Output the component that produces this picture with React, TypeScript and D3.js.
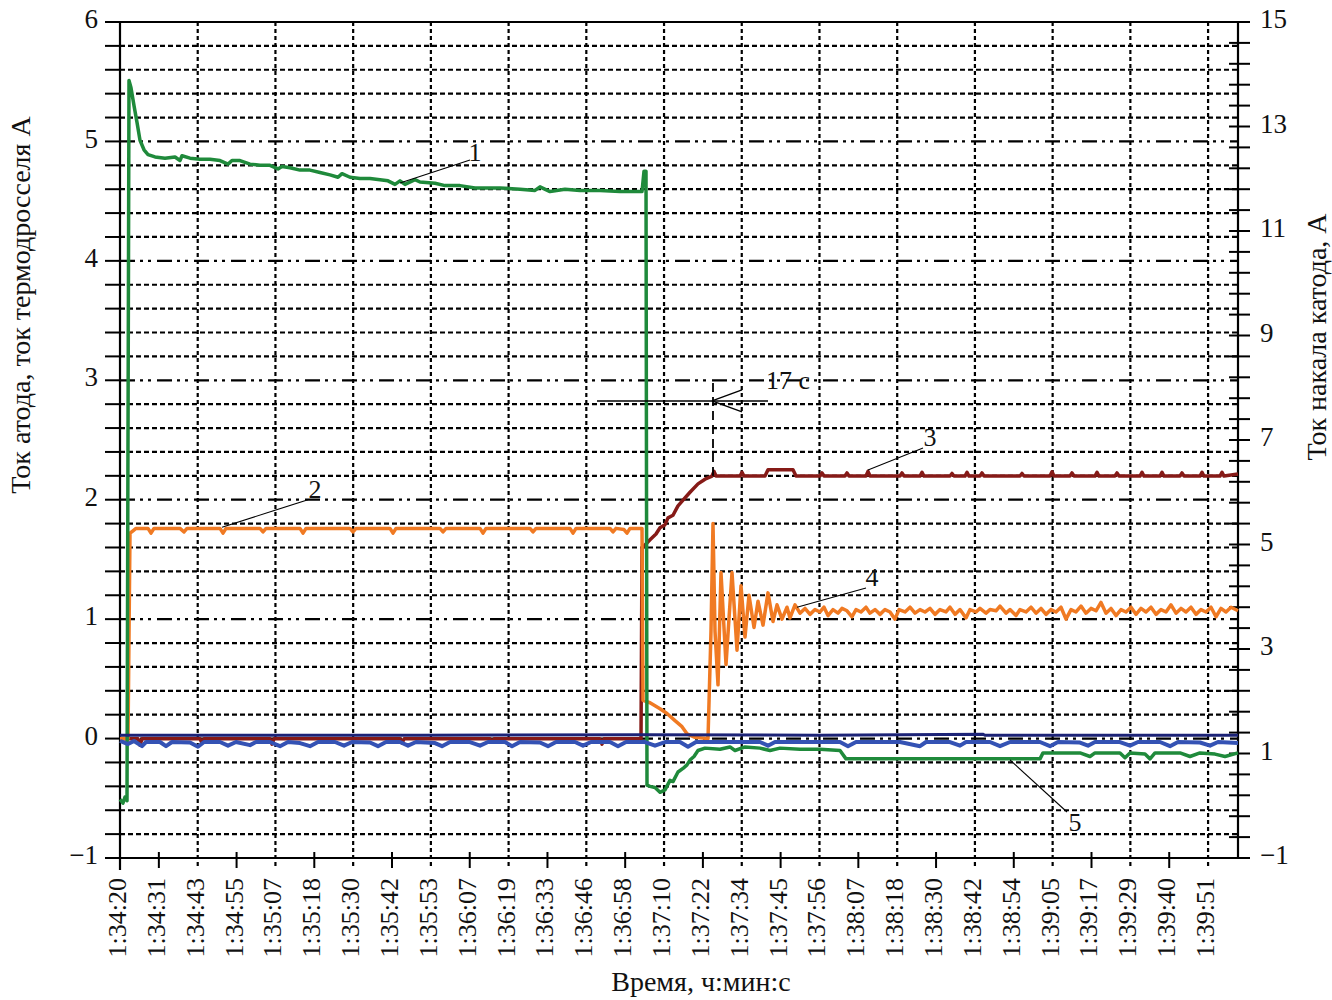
import React from "react";
import * as d3 from "d3";

// x: sample number since 1:34:20; one tick label every SAMPLES_PER_TICK samples
const SAMPLES_PER_TICK = 38.86;
const X_MAX = 1118;

const timeLabels = [
  "1:34:20", "1:34:31", "1:34:43", "1:34:55", "1:35:07", "1:35:18", "1:35:30",
  "1:35:42", "1:35:53", "1:36:07", "1:36:19", "1:36:33", "1:36:46", "1:36:58",
  "1:37:10", "1:37:22", "1:37:34", "1:37:45", "1:37:56", "1:38:07", "1:38:18",
  "1:38:30", "1:38:42", "1:38:54", "1:39:05", "1:39:17", "1:39:29", "1:39:40", "1:39:51",
];

const leftTicks = [-1, 0, 1, 2, 3, 4, 5, 6];
const rightTickLabels = [15, 13, 11, 9, 7, 5, 3, 1, -1];

// Series 1 (green) – anode current, left axis
const series1: [number, number][] = [
  [0, -0.51], [3, -0.54], [5, -0.49], [7, -0.52], [9, 5.51], [11, 5.45], [14, 5.3], [17, 5.16],
  [20, 5.01], [24, 4.93], [28, 4.89], [35, 4.87], [45, 4.86], [55, 4.87], [60, 4.84], [62, 4.88],
  [70, 4.86], [80, 4.85], [90, 4.85], [100, 4.84], [108, 4.81], [112, 4.84], [120, 4.84],
  [130, 4.81], [140, 4.8], [150, 4.8], [158, 4.77], [162, 4.79], [170, 4.78], [180, 4.76],
  [190, 4.76], [200, 4.74], [210, 4.72], [218, 4.7], [222, 4.73], [230, 4.7], [240, 4.69],
  [250, 4.69], [260, 4.68], [268, 4.67], [275, 4.64], [280, 4.67], [285, 4.64], [295, 4.68],
  [300, 4.66], [315, 4.65], [325, 4.63], [340, 4.63], [355, 4.61], [365, 4.61], [380, 4.61],
  [400, 4.6], [415, 4.59], [420, 4.62], [430, 4.58], [445, 4.6], [460, 4.59], [480, 4.59],
  [500, 4.58], [522, 4.58], [524, 4.75], [526, 4.75], [527, -0.39], [530, -0.4], [535, -0.41],
  [540, -0.45], [545, -0.43], [550, -0.35], [553, -0.36], [558, -0.28], [563, -0.25],
  [567, -0.22], [570, -0.18], [574, -0.15], [578, -0.1], [585, -0.08], [600, -0.09],
  [610, -0.07], [615, -0.1], [625, -0.07], [640, -0.08], [650, -0.1], [660, -0.08],
  [680, -0.09], [700, -0.09], [720, -0.1], [726, -0.17], [780, -0.17], [850, -0.17],
  [920, -0.17], [923, -0.12], [960, -0.12], [970, -0.15], [975, -0.12], [1000, -0.12],
  [1005, -0.16], [1010, -0.12], [1025, -0.13], [1030, -0.17], [1035, -0.12], [1060, -0.12],
  [1070, -0.15], [1080, -0.12], [1095, -0.13], [1105, -0.15], [1118, -0.12],
];

// Series 2 / 4 (orange) – thermothrottle current, left axis
const series24: [number, number][] = [
  [0, 0], [8, 0], [10, 1.72], [13, 1.74], [16, 1.76], [28, 1.76], [31, 1.72], [34, 1.76],
  [60, 1.76], [64, 1.73], [67, 1.76], [100, 1.76], [103, 1.72], [106, 1.76], [140, 1.76],
  [143, 1.73], [146, 1.76], [180, 1.76], [183, 1.72], [186, 1.76], [230, 1.76], [233, 1.73],
  [236, 1.76], [270, 1.76], [273, 1.72], [276, 1.76], [320, 1.76], [323, 1.73], [326, 1.76],
  [360, 1.76], [363, 1.72], [366, 1.76], [410, 1.76], [413, 1.73], [416, 1.76], [450, 1.76],
  [453, 1.72], [456, 1.76], [490, 1.76], [493, 1.73], [496, 1.76], [504, 1.75], [507, 1.72],
  [510, 1.76], [522, 1.76], [523, 0.32], [530, 0.3], [540, 0.25], [547, 0.21], [555, 0.15],
  [562, 0.1], [567, 0.04], [575, 0.01], [588, 0.0], [591, 0.9], [593, 1.8], [595, 0.9],
  [598, 0.45], [601, 1.39], [606, 0.62], [612, 1.39], [617, 0.74], [621, 1.28], [625, 0.85],
  [629, 1.2], [634, 0.93], [638, 1.15], [643, 0.95], [648, 1.22], [653, 0.98], [657, 1.12],
  [662, 1.0], [667, 1.1], [670, 1.01], [675, 1.12], [680, 1.05], [685, 1.09], [690, 1.04],
  [695, 1.08], [700, 1.06], [704, 1.1], [708, 1.03], [713, 1.08], [718, 1.05], [722, 1.09],
  [727, 1.07], [732, 1.02], [736, 1.08], [741, 1.06], [746, 1.1], [750, 1.05], [755, 1.08],
  [760, 1.04], [765, 1.08], [770, 1.06], [775, 1.0], [779, 1.08], [785, 1.06], [790, 1.1],
  [795, 1.05], [800, 1.08], [805, 1.06], [810, 1.09], [815, 1.04], [820, 1.08], [826, 1.06],
  [830, 1.1], [835, 1.04], [840, 1.08], [846, 1.01], [850, 1.08], [856, 1.06], [860, 1.09],
  [866, 1.05], [870, 1.08], [876, 1.07], [880, 1.11], [886, 1.05], [890, 1.08], [896, 1.03],
  [900, 1.08], [906, 1.06], [911, 1.1], [916, 1.05], [921, 1.09], [926, 1.04], [931, 1.08],
  [936, 1.06], [941, 1.1], [946, 1.0], [951, 1.08], [956, 1.06], [961, 1.11], [966, 1.05],
  [971, 1.09], [976, 1.07], [981, 1.14], [986, 1.05], [991, 1.09], [996, 1.03], [1001, 1.08],
  [1006, 1.06], [1011, 1.1], [1016, 1.04], [1021, 1.09], [1026, 1.06], [1031, 1.1],
  [1036, 1.04], [1041, 1.08], [1046, 1.06], [1051, 1.12], [1056, 1.05], [1061, 1.09],
  [1066, 1.06], [1071, 1.1], [1076, 1.04], [1081, 1.08], [1086, 1.06], [1091, 1.1],
  [1096, 1.02], [1101, 1.09], [1106, 1.06], [1111, 1.1], [1118, 1.07],
];

// Series 3 (dark red) – cathode heating current, right axis
const series3: [number, number][] = [
  [0, 1.28], [18, 1.28], [20, 1.16], [22, 1.28], [80, 1.28], [82, 1.2], [84, 1.28], [150, 1.28],
  [152, 1.18], [154, 1.28], [280, 1.28], [282, 1.2], [284, 1.28], [370, 1.28], [372, 1.22],
  [374, 1.28], [480, 1.28], [482, 1.18], [484, 1.28], [521, 1.28], [522, 4.93], [530, 5.09],
  [536, 5.2], [540, 5.32], [545, 5.38], [548, 5.51], [553, 5.56], [558, 5.74], [563, 5.85],
  [570, 6.0], [578, 6.16], [585, 6.25], [592, 6.31], [594, 6.4], [596, 6.31], [620, 6.31],
  [622, 6.38], [624, 6.31], [645, 6.31], [648, 6.43], [673, 6.43], [676, 6.31], [700, 6.31],
  [702, 6.37], [704, 6.31], [725, 6.31], [727, 6.37], [729, 6.31], [746, 6.31], [748, 6.4],
  [750, 6.31], [780, 6.31], [782, 6.37], [784, 6.31], [800, 6.31], [802, 6.38], [804, 6.31],
  [830, 6.31], [832, 6.36], [834, 6.31], [845, 6.31], [847, 6.38], [849, 6.31], [860, 6.31],
  [862, 6.37], [864, 6.31], [900, 6.31], [902, 6.36], [904, 6.31], [930, 6.31], [932, 6.39],
  [934, 6.31], [950, 6.31], [952, 6.37], [954, 6.31], [975, 6.31], [977, 6.38], [979, 6.31],
  [995, 6.31], [997, 6.37], [999, 6.31], [1020, 6.31], [1022, 6.38], [1024, 6.31], [1040, 6.31],
  [1042, 6.38], [1044, 6.31], [1060, 6.31], [1062, 6.37], [1064, 6.31], [1080, 6.31],
  [1082, 6.38], [1084, 6.31], [1100, 6.31], [1102, 6.38], [1104, 6.31], [1118, 6.35],
];

// Series 5 (blue, noisy) – right axis
const series5: [number, number][] = [
  [0, 1.24], [8, 1.18], [14, 1.24], [22, 1.14], [26, 1.22], [40, 1.22], [46, 1.14], [52, 1.22],
  [70, 1.21], [78, 1.13], [84, 1.22], [100, 1.22], [108, 1.15], [116, 1.22], [130, 1.16],
  [136, 1.22], [150, 1.22], [160, 1.14], [168, 1.22], [180, 1.2], [190, 1.14], [198, 1.22],
  [215, 1.22], [224, 1.15], [232, 1.22], [250, 1.21], [258, 1.14], [266, 1.22], [280, 1.22],
  [288, 1.15], [296, 1.22], [315, 1.2], [322, 1.14], [330, 1.22], [350, 1.22], [360, 1.15],
  [368, 1.22], [385, 1.22], [392, 1.14], [400, 1.22], [420, 1.21], [428, 1.14], [436, 1.22],
  [455, 1.22], [463, 1.15], [471, 1.22], [490, 1.22], [498, 1.14], [506, 1.22], [525, 1.22],
  [535, 1.15], [545, 1.22], [560, 1.22], [568, 1.13], [576, 1.22], [600, 1.22], [640, 1.22],
  [648, 1.15], [655, 1.22], [700, 1.22], [720, 1.22], [728, 1.14], [736, 1.22], [750, 1.22],
  [780, 1.22], [800, 1.14], [806, 1.22], [830, 1.22], [840, 1.15], [846, 1.22], [870, 1.22],
  [880, 1.14], [890, 1.22], [920, 1.22], [930, 1.14], [938, 1.22], [960, 1.21], [968, 1.15],
  [975, 1.22], [1000, 1.22], [1010, 1.15], [1018, 1.22], [1040, 1.22], [1050, 1.14],
  [1058, 1.22], [1080, 1.21], [1090, 1.15], [1098, 1.22], [1118, 1.2],
];

// Navy reference line – right axis
const seriesNavy: [number, number][] = [
  [0, 1.35], [300, 1.35], [525, 1.36], [700, 1.35], [863, 1.37], [865, 1.35], [1118, 1.35],
];

// Callout labels (left-axis units)
const callouts = [
  { label: "1", tx: 355, ty: 4.886, x1: 350, y1: 4.845, x2: 280, y2: 4.652 },
  { label: "2", tx: 195, ty: 2.065, x1: 188, y1: 2.0, x2: 102, y2: 1.77 },
  { label: "3", tx: 810, ty: 2.5, x1: 803, y1: 2.433, x2: 748, y2: 2.249 },
  { label: "4", tx: 752, ty: 1.328, x1: 746, y1: 1.261, x2: 677, y2: 1.1 },
  { label: "5", tx: 955, ty: -0.724, x1: 947, y1: -0.615, x2: 890, y2: -0.179 },
];

const FONT = "'Liberation Serif', 'Times New Roman', serif";

export default function App() {
  const W = 1332, H = 1000;
  const L = 120, R = 1238, T = 22, B = 858;
  const x = d3.scaleLinear().domain([0, X_MAX]).range([L, R]);
  const yL = d3.scaleLinear().domain([-1, 6]).range([B, T]);
  const yR = d3.scaleLinear().domain([-1, 15]).range([B, T]);

  const lineL = d3.line<[number, number]>().x((d) => x(d[0])).y((d) => yL(d[1]));
  const lineR = d3.line<[number, number]>().x((d) => x(d[0])).y((d) => yR(d[1]));

  const hGrid = d3.range(-1, 6.001, 0.2).map((v) => Math.round(v * 10) / 10);
  const rMinor = d3.range(-1, 15.001, 0.4);
  const xTickIdx = timeLabels.map((_, i) => i);

  const intLine = (v: number) => Math.abs(v - Math.round(v)) < 1e-6;

  return (
    <svg width={W} height={H} style={{ position: "absolute", left: 0, top: 0, background: "#fff" }}
      fontFamily={FONT}>
      <rect x={0} y={0} width={W} height={H} fill="#fff" />
      {/* horizontal grid */}
      {hGrid.filter((v) => v > -1 && v < 6).map((v) => (
        <line key={"h" + v} x1={L} x2={R} y1={yL(v)} y2={yL(v)} stroke="#000"
          strokeWidth={2.2}
          strokeDasharray={intLine(v) ? "15,5,3,5,3,6" : "5,3"} />
      ))}
      {/* vertical grid */}
      {xTickIdx.filter((i) => i % 2 === 0 && i > 0).map((i) => (
        <line key={"v" + i} x1={x(i * SAMPLES_PER_TICK)} x2={x(i * SAMPLES_PER_TICK)}
          y1={T} y2={B + 10} stroke="#000" strokeWidth={2.2} strokeDasharray="4,3" />
      ))}
      {/* left ticks */}
      {hGrid.map((v) => (
        <line key={"lt" + v} x1={L - 15} x2={L} y1={yL(v)} y2={yL(v)} stroke="#000" strokeWidth={2} />
      ))}
      {/* right ticks */}
      {rMinor.map((v, i) => (
        <line key={"rt" + i} x1={R - 9} x2={R + 12} y1={yR(v)} y2={yR(v)} stroke="#000" strokeWidth={2} />
      ))}
      {/* bottom ticks (odd) */}
      {xTickIdx.filter((i) => i % 2 === 1).map((i) => (
        <line key={"bt" + i} x1={x(i * SAMPLES_PER_TICK)} x2={x(i * SAMPLES_PER_TICK)}
          y1={B - 6} y2={B + 10} stroke="#000" strokeWidth={2} />
      ))}
      {/* frame */}
      <line x1={L - 15} x2={R + 12} y1={T} y2={T} stroke="#000" strokeWidth={2.2} />
      <line x1={L - 15} x2={R + 12} y1={B} y2={B} stroke="#000" strokeWidth={2.2} />
      <line x1={L} x2={L} y1={T} y2={B + 12} stroke="#000" strokeWidth={2.2} />
      <line x1={R} x2={R} y1={T} y2={B} stroke="#000" strokeWidth={2.2} />

      {/* series */}
      <path d={lineR(series3) || ""} fill="none" stroke="#861a17" strokeWidth={3.5} strokeLinejoin="round" />
      <path d={lineL(series24) || ""} fill="none" stroke="#f07a23" strokeWidth={3.5} strokeLinejoin="round" />
      <path d={lineL(series1) || ""} fill="none" stroke="#1f8a3b" strokeWidth={3.5} strokeLinejoin="round" />
      <path d={lineR(series5) || ""} fill="none" stroke="#3452b4" strokeWidth={4} strokeLinejoin="round" />
      <path d={lineR(seriesNavy) || ""} fill="none" stroke="#1c2377" strokeWidth={3} />

      {/* 17 с marker */}
      <line x1={x(593)} x2={x(593)} y1={yL(2.977)} y2={yL(2.2)} stroke="#000" strokeWidth={1.8} strokeDasharray="9,5" />
      <line x1={x(477)} x2={x(648)} y1={yL(2.827)} y2={yL(2.827)} stroke="#000" strokeWidth={1.4} />
      <line x1={x(592)} x2={x(622)} y1={yL(2.827)} y2={yL(2.92)} stroke="#000" strokeWidth={1.4} />
      <line x1={x(592)} x2={x(622)} y1={yL(2.827)} y2={yL(2.735)} stroke="#000" strokeWidth={1.4} />
      <text x={x(646)} y={yL(2.977)} fontSize={26} dominantBaseline="middle" fill="#111">17 с</text>

      {/* callouts */}
      {callouts.map((c) => (
        <g key={"c" + c.label}>
          <line x1={x(c.x1)} y1={yL(c.y1)} x2={x(c.x2)} y2={yL(c.y2)} stroke="#000" strokeWidth={1.1} />
          <text x={x(c.tx)} y={yL(c.ty)} fontSize={26} textAnchor="middle" dominantBaseline="middle" fill="#111">{c.label}</text>
        </g>
      ))}

      {/* left labels */}
      {leftTicks.map((v) => (
        <text key={"ll" + v} x={L - 22} y={yL(v)} fontSize={27} textAnchor="end" dominantBaseline="middle" fill="#111">
          {v < 0 ? "\u2212" + Math.abs(v) : v}
        </text>
      ))}
      {/* right labels */}
      {rightTickLabels.map((v) => (
        <text key={"rl" + v} x={R + 22} y={yR(v)} fontSize={27} textAnchor="start" dominantBaseline="middle" fill="#111">
          {v < 0 ? "\u2212" + Math.abs(v) : v}
        </text>
      ))}
      {/* bottom labels */}
      {timeLabels.map((t, i) => (
        <text key={"bl" + i} transform={`translate(${x(i * SAMPLES_PER_TICK)},${B + 20}) rotate(-90)`}
          fontSize={26} textAnchor="end" dominantBaseline="middle" fill="#111">{t}</text>
      ))}

      {/* axis titles */}
      <text transform={`translate(24,${305}) rotate(-90)`} fontSize={28} textAnchor="middle" dominantBaseline="middle" fill="#111">
        Ток атода, ток термодросселя А
      </text>
      <text transform={`translate(1320,${337}) rotate(-90)`} fontSize={28} textAnchor="middle" dominantBaseline="middle" fill="#111">
        Ток накала катода, А
      </text>
      <text x={701} y={985} fontSize={28} textAnchor="middle" dominantBaseline="middle" fill="#111">Время, ч:мин:с</text>
    </svg>
  );
}
